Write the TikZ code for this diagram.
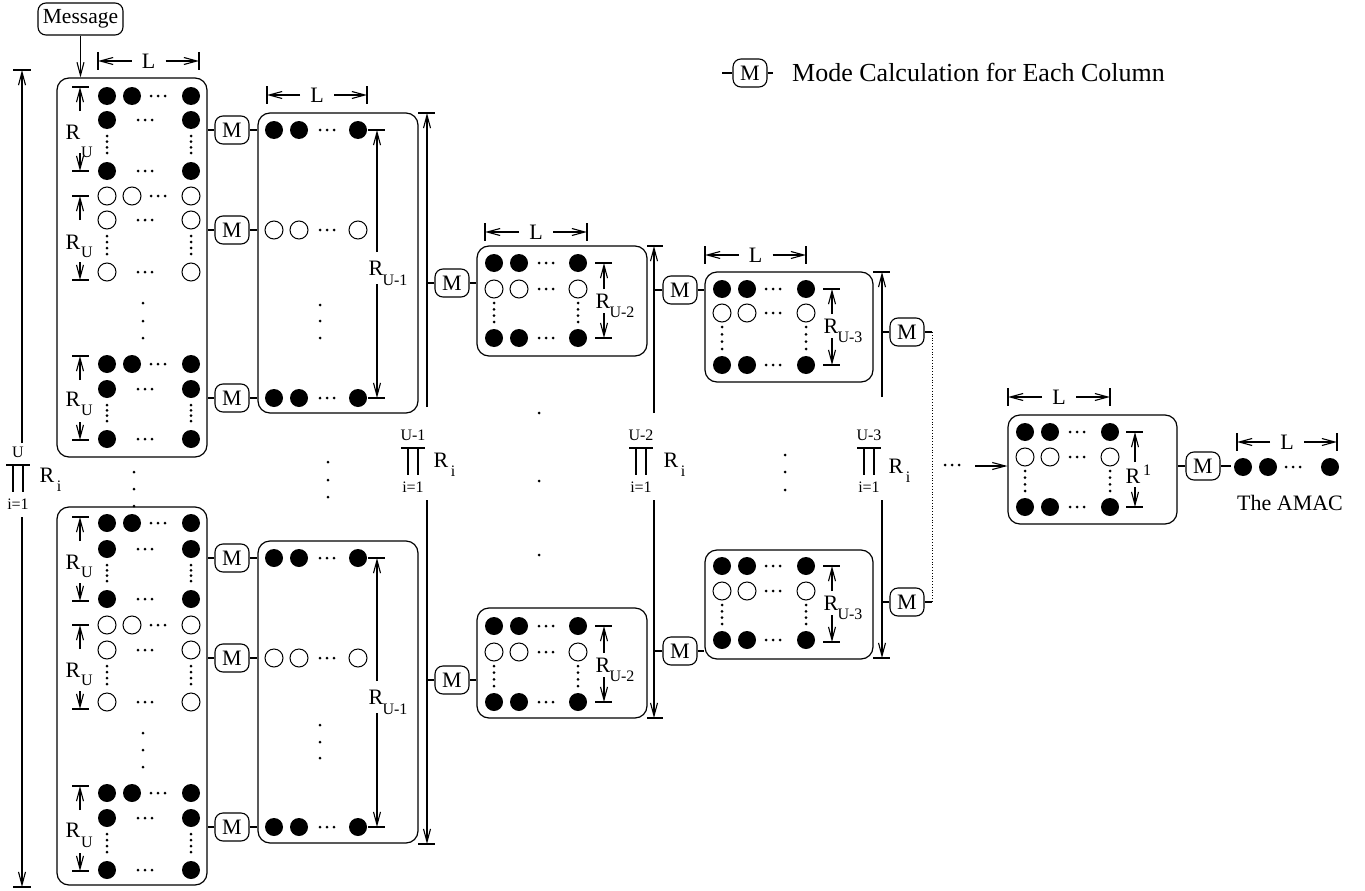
\documentclass[tikz,border=0pt]{standalone}
\usepackage{fontspec}
\setmainfont{Liberation Serif}
\usetikzlibrary{arrows.meta,calc}
\tikzset{
  ln/.style={line width=1.1pt},
  box/.style={draw, line width=1.2pt, rounded corners=12pt, inner sep=0pt},
  mnode/.style={draw, line width=1.1pt, rounded corners=8pt, minimum width=34pt, minimum height=28pt, inner sep=0pt, font=\fontsize{22}{24}\selectfont},
  bc/.style={fill=black},
  wc/.style={draw=black, line width=1pt, fill=white},
  arr/.style={line width=1.1pt, -{Straight Barb[length=13pt,width=7pt]}},
  lab/.style={inner sep=0pt, font=\fontsize{22}{24}\selectfont},
  sub/.style={inner sep=0pt, font=\fontsize{16}{18}\selectfont},
}
% full row: xa xb xdots xc y style
\newcommand\crow[6]{%
  \path[#6] (#1,#5) circle (9pt) (#2,#5) circle (9pt) (#4,#5) circle (9pt);
  \fill (#3-7,#5) circle (1.5pt) (#3,#5) circle (1.5pt) (#3+7,#5) circle (1.5pt);}
% sparse row: xa xdots xc y style
\newcommand\srow[5]{%
  \path[#5] (#1,#4) circle (9pt) (#3,#4) circle (9pt);
  \fill (#2-7,#4) circle (1.5pt) (#2,#4) circle (1.5pt) (#2+7,#4) circle (1.5pt);}
% four vertical dots
\newcommand\vdts[3]{%
  \foreach \k in {0,1,2,3} {\fill (#1,{(#2)+((#3)-(#2))*\k/3}) circle (1.5pt);}}
% three big spaced dots
\newcommand\tdots[4]{\fill (#1,#2) circle (1.5pt) (#1,#3) circle (1.5pt) (#1,#4) circle (1.5pt);}
% group of the first column
\newcommand\grp[8]{%
  \crow{107}{132}{158}{191}{#3}{#6}
  \srow{107}{145}{191}{#4}{#6}
  \vdts{107}{#4+16}{#5-18}
  \vdts{191}{#4+16}{#5-18}
  \srow{107}{145}{191}{#5}{#6}
  \draw[ln] (72,#1) -- (89,#1) (72,#2) -- (89,#2);
  \draw[arr] (80,#1+24) -- (80,#1);
  \draw[arr] (80,#2-18) -- (80,#2);
  \node[lab] (RU#1) at (73,#7) {R};
  \node[sub] (SU#1) at (87,#8) {U};}
% small grid: xa xb xd xc y1 y2 y3
\newcommand\sgrid[7]{%
  \crow{#1}{#2}{#3}{#4}{#5}{bc}
  \crow{#1}{#2}{#3}{#4}{#6}{wc}
  \vdts{#1}{#6+14}{#7-16}
  \vdts{#4}{#6+14}{#7-16}
  \crow{#1}{#2}{#3}{#4}{#7}{bc}}
% R dimension: x ytop ybot Ry subtext subdy name gap
\newcommand\rdim[8]{%
  \draw[ln] (#1-9,#2) -- (#1+8,#2) (#1-9,#3) -- (#1+8,#3);
  \draw[arr] (#1,#4-#8) -- (#1,#2);
  \draw[arr] (#1,#4+#8) -- (#1,#3);
  \node[lab] (#7R) at (#1-1,#4) {R};
  \node[sub] (#7S) at (#1+18,#4+#6) {#5};}
% L dimension: xl xr y name
\newcommand\ldim[4]{%
  \draw[ln] (#1,#3-9) -- (#1,#3+9) (#2,#3-9) -- (#2,#3+9);
  \node[lab] (#4) at ({(#1+#2)/2},#3) {L};
  \draw[arr] ({(#1+#2)/2-17},#3) -- (#1,#3);
  \draw[arr] ({(#1+#2)/2+17},#3) -- (#2,#3);}
% product label: cx ytop upper Rx Ry name
\newcommand\prodlab[6]{%
  \node[sub] (#6u) at (#1,#2-13) {#3};
  \draw[ln] (#1-12,#2) -- (#1+12,#2) (#1-5,#2) -- (#1-5,#2+27) (#1+5,#2) -- (#1+5,#2+27);
  \node[sub] (#6l) at (#1,#2+39) {i=1};
  \node[lab] (#6R) at (#4,#5) {R};
  \node[sub] (#6i) at (#4+12,#5+11) {i};}
\begin{document}
\begin{tikzpicture}[x=1pt,y=-1pt]
\useasboundingbox (0,0) rectangle (1365,891);
% ---------- boxes ----------
\node[box, minimum width=150pt, minimum height=379pt] (B1u) at (132,267.5) {};
\node[box, minimum width=150pt, minimum height=378pt] (B1l) at (132,696) {};
\node[box, minimum width=160pt, minimum height=300pt] (B2u) at (338,263) {};
\node[box, minimum width=160pt, minimum height=302pt] (B2l) at (338,692) {};
\node[box, minimum width=170pt, minimum height=110pt] (B3u) at (562,301) {};
\node[box, minimum width=170pt, minimum height=110pt] (B3l) at (562,663) {};
\node[box, minimum width=168pt, minimum height=110pt] (B4u) at (789,327) {};
\node[box, minimum width=168pt, minimum height=109pt] (B4l) at (789,604.5) {};
\node[box, minimum width=169pt, minimum height=109pt] (B5) at (1092.5,469.5) {};
% ---------- message ----------
\node[draw, rounded corners=8pt, line width=1.1pt, minimum width=85pt, minimum height=32pt, inner sep=0pt, font=\fontsize{21.5}{23}\selectfont] (msg) at (80.5,19) {Message};
\draw[arr] (msg.south) -- (msg.south |- B1u.north);
% ---------- legend ----------
\node[mnode] (Mleg) at (750,73) {M};
\coordinate (LgA) at (722,73);
\coordinate (LgB) at (773,73);
\draw[ln] (LgA) -- (Mleg.west) (Mleg.east) -- (LgB);
\node[anchor=west, inner sep=0pt, font=\fontsize{26}{30}\selectfont] (legtxt) at (792,72) {Mode Calculation for Each Column};
% ---------- first column ----------
\ldim{98}{199}{61}{L1}
\grp{87}{171}{96}{120}{171}{bc}{132}{152}
\grp{196}{280}{196}{220}{272}{wc}{242}{252}
\grp{356}{440}{364}{389}{439}{bc}{399}{410}
\tdots{143}{303}{321}{338}
\grp{517}{601}{523}{549}{599}{bc}{562}{572}
\grp{625}{709}{625}{650}{702}{wc}{670}{680}
\grp{786}{871}{793}{818}{870}{bc}{830}{842}
\tdots{143}{733}{750}{767}
\tdots{134}{472}{489}{506}
% left tall dimension
\draw[ln] (13,70) -- (31,70) (13,887) -- (31,887);
\draw[arr] (22,443) -- (22,70);
\draw[arr] (22,517) -- (22,887);
\prodlab{18}{465}{U}{47}{475}{P0}
% ---------- M nodes column 1 ----------
\node[mnode] (Ma1) at (232,130) {M};
\node[mnode] (Ma2) at (232,230) {M};
\node[mnode] (Ma3) at (232,398) {M};
\node[mnode] (Ma4) at (232,558) {M};
\node[mnode] (Ma5) at (232,658) {M};
\node[mnode] (Ma6) at (232,827) {M};
\foreach \m/\a/\b in {Ma1/B1u/B2u, Ma2/B1u/B2u, Ma3/B1u/B2u, Ma4/B1l/B2l, Ma5/B1l/B2l, Ma6/B1l/B2l}
  {\draw[ln] (\m.west) -- (\m.west -| \a.east) (\m.east) -- (\m.east -| \b.west);}
% ---------- second column ----------
\ldim{267}{367}{95}{L2}
\crow{274}{299}{327}{358}{130}{bc}
\crow{274}{299}{327}{358}{230}{wc}
\tdots{320}{305}{321}{338}
\crow{274}{299}{327}{358}{398}{bc}
\rdim{377}{130}{398}{268}{U-1}{12}{D2u}{16}
\crow{274}{299}{327}{358}{558}{bc}
\crow{274}{299}{327}{358}{658}{wc}
\tdots{320}{725}{742}{758}
\crow{274}{299}{327}{358}{827}{bc}
\rdim{377}{558}{827}{697}{U-1}{12}{D2l}{16}
\tdots{328}{462}{480}{497}
% tall dimension 2
\coordinate (V1) at (427,0);
\draw[ln] (418,113) -- (435,113) (418,844) -- (435,844);
\draw[arr] (427,407) -- (427,113);
\draw[arr] (427,500) -- (427,844);
\prodlab{413}{448}{U-1}{441}{460}{P1}
\node[mnode] (Mb1) at (452,283) {M};
\node[mnode] (Mb2) at (452,680) {M};
\draw[ln] (Mb1.west) -- (Mb1.west -| V1) (Mb1.east) -- (Mb1.east -| B3u.west);
\draw[ln] (Mb2.west) -- (Mb2.west -| V1) (Mb2.east) -- (Mb2.east -| B3l.west);
% ---------- third column ----------
\ldim{485}{587}{232}{L3}
\sgrid{494}{519}{546}{578}{263}{289}{338}
\rdim{604}{263}{338}{301}{U-2}{11}{D3u}{12}
\sgrid{494}{519}{546}{578}{626}{652}{702}
\rdim{604}{626}{702}{665}{U-2}{11}{D3l}{12}
\tdots{539}{413}{481}{555}
\coordinate (V2) at (654,0);
\draw[ln] (647,246) -- (663,246) (647,718) -- (663,718);
\draw[arr] (654,413) -- (654,246);
\draw[arr] (654,500) -- (654,718);
\prodlab{641}{448}{U-2}{671}{460}{P2}
\node[mnode] (Mc1) at (680,290) {M};
\node[mnode] (Mc2) at (680,651) {M};
\draw[ln] (Mc1.west) -- (Mc1.west -| V2) (Mc1.east) -- (Mc1.east -| B4u.west);
\draw[ln] (Mc2.west) -- (Mc2.west -| V2) (Mc2.east) -- (Mc2.east -| B4l.west);
% ---------- fourth column ----------
\ldim{705}{806}{255}{L4}
\sgrid{722}{747}{773}{806}{289}{313}{365}
\rdim{832}{289}{365}{326}{U-3}{11}{D4u}{12}
\sgrid{722}{747}{773}{806}{566}{591}{640}
\rdim{832}{566}{642}{603}{U-3}{11}{D4l}{12}
\tdots{785}{455}{472}{490}
\coordinate (V3) at (882,0);
\coordinate (V4) at (932,0);
\draw[ln] (873,272) -- (890,272) (873,658) -- (890,658);
\draw[arr] (882,397) -- (882,272);
\draw[arr] (882,500) -- (882,658);
\prodlab{869}{448}{U-3}{896}{466}{P3}
\node[mnode] (Md1) at (907,332) {M};
\node[mnode] (Md2) at (907,602) {M};
\draw[ln] (Md1.west) -- (Md1.west -| V3) (Md1.east) -- (Md1.east -| V4);
\draw[ln] (Md2.west) -- (Md2.west -| V3) (Md2.east) -- (Md2.east -| V4);
\draw[line width=0.8pt, dotted] (Md1.east -| V4) -- (Md2.east -| V4);
% ---------- fifth column ----------
\fill (945,465) circle (1.5pt) (952,465) circle (1.5pt) (959,465) circle (1.5pt);
\coordinate (ArS) at (975,466);
\draw[arr] (ArS) -- (ArS -| B5.west);
\ldim{1008}{1110}{397}{L5}
\sgrid{1025}{1050}{1077}{1110}{432}{457}{507}
\draw[ln] (1126,432) -- (1143,432) (1126,507) -- (1143,507);
\draw[arr] (1135,462) -- (1135,432);
\draw[arr] (1135,487) -- (1135,507);
\node[lab] (R1R) at (1133,476) {R};
\node[sub] (R1S) at (1147,470) {1};
\node[mnode] (Me) at (1203,466) {M};
\coordinate (EndE) at (1231,466);
\draw[ln] (Me.west) -- (Me.west -| B5.east) (Me.east) -- (EndE);
% ---------- result row ----------
\ldim{1237}{1337}{442}{L6}
\path[bc] (1243,467) circle (9pt) (1268,467) circle (9pt) (1330,467) circle (9pt);
\fill (1286,467) circle (1.5pt) (1293,467) circle (1.5pt) (1300,467) circle (1.5pt);
\node[lab] (amac) at (1290,503) {The AMAC};
\end{tikzpicture}
\end{document}
